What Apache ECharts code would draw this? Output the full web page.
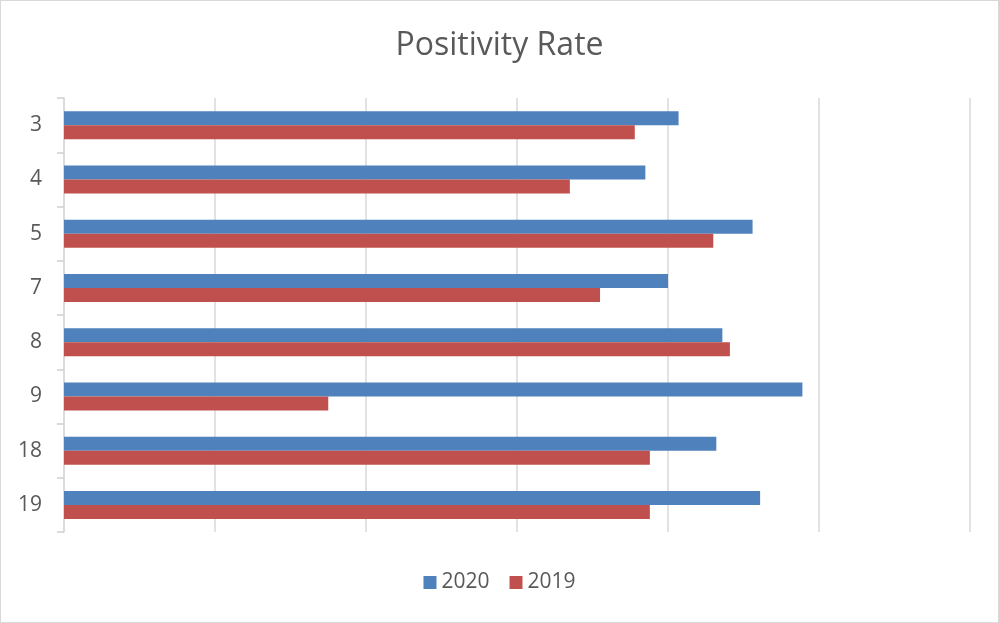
<!DOCTYPE html>
<html>

<head>
    <meta charset="utf-8">
    <title>Positivity Rate</title>
    <script src="https://cdn.jsdelivr.net/npm/echarts@6/dist/echarts.min.js"></script>
    <style>
        body { margin: 0; }
    </style>
</head>

<body>
    <div id="main" style="width: 997px;height:621px;border:1px solid #d9d9d9;"></div>
    <script type="text/javascript">
        // 分类和数据
        let categories = ['3', '4', '5', '7', '8', '9', '18', '19']
        let values2020 = [40.7, 38.5, 45.6, 40.0, 43.6, 48.9, 43.2, 46.1]
        let values2019 = [37.8, 33.5, 43.0, 35.5, 44.1, 17.5, 38.8, 38.8]

        let myChart = echarts.init(document.getElementById('main'));

        let option = {
            title: {
                text: 'Positivity Rate',
                left: 'center',
                top: 24,
                textStyle: {
                    fontFamily: 'Open Sans',
                    fontSize: 32,
                    fontWeight: 'normal',
                    color: '#595959'
                }
            },
            legend: {
                bottom: 24,
                left: 'center',
                itemWidth: 13,
                itemHeight: 13,
                itemGap: 20,
                icon: 'rect',
                textStyle: {
                    fontFamily: 'Open Sans',
                    fontSize: 21,
                    color: '#595959'
                },
                data: ['2020', '2019']
            },
            color: ['#4f81bd', '#c0504d'],
            grid: {
                left: 63,
                right: 28,
                top: 97,
                bottom: 90
            },
            xAxis: {
                type: 'value',
                min: 0,
                max: 60,
                interval: 10,
                axisLabel: { show: false },
                axisTick: { show: false },
                axisLine: { show: false },
                splitLine: {
                    lineStyle: { color: '#d9d9d9', width: 1.5 }
                }
            },
            yAxis: {
                type: 'category',
                inverse: true,
                data: categories,
                axisLine: {
                    lineStyle: { color: '#d9d9d9', width: 1.5 }
                },
                axisTick: {
                    show: true,
                    length: 7,
                    lineStyle: { color: '#cfcfcf', width: 1.5 }
                },
                axisLabel: {
                    margin: 22,
                    fontFamily: 'Open Sans',
                    fontSize: 21,
                    color: '#595959'
                }
            },
            series: [
                {
                    name: '2020',
                    type: 'bar',
                    barWidth: 14,
                    barGap: '0%',
                    data: values2020
                },
                {
                    name: '2019',
                    type: 'bar',
                    barWidth: 14,
                    barGap: '0%',
                    data: values2019
                }
            ]
        };

        myChart.setOption(option);
    </script>
</body>

</html>
